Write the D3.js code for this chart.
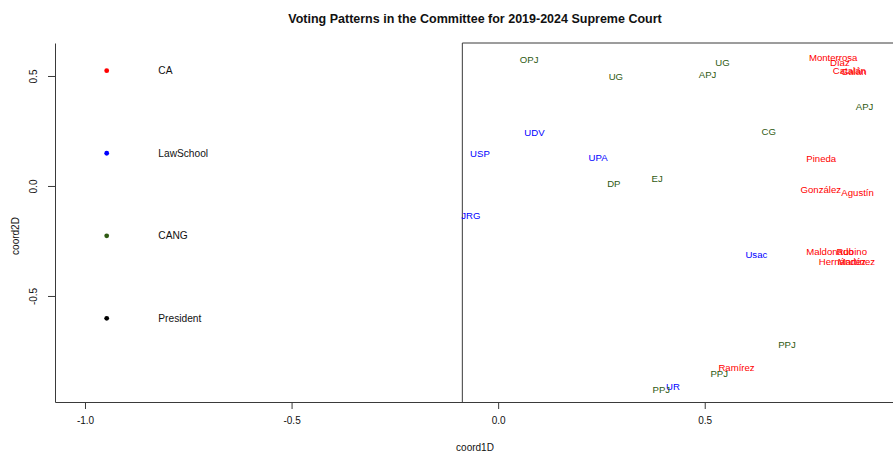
<!DOCTYPE html>
<html>
<head>
<meta charset="utf-8">
<script src="https://cdn.jsdelivr.net/npm/d3@7"></script>
<style>
  html, body { margin: 0; padding: 0; background: #fff; }
  svg { display: block; font-family: "Liberation Sans", Arial, sans-serif; }
</style>
</head>
<body>
<svg id="chart" width="893" height="452"></svg>
<script>
// ---- data ----
const labels = ["OPJ","UG","UG","APJ","Monterrosa","Díaz","Catalán","Galán","APJ","UDV","CG","USP","UPA","Pineda","EJ","DP","González","Agustín","JRG","Usac","Maldonado","Rubino","Hernández","Martínez","PPJ","Ramírez","PPJ","UR","PPJ"];
const groups = ["CANG","CANG","CANG","CANG","CA","CA","CA","CA","CANG","LawSchool","CANG","LawSchool","LawSchool","CA","CANG","CANG","CA","CA","LawSchool","LawSchool","CA","CA","CA","CA","CANG","CA","CANG","LawSchool","CANG"];
const coord1D = [0.075,0.543,0.285,0.507,0.811,0.827,0.850,0.861,0.887,0.088,0.655,-0.044,0.242,0.782,0.385,0.280,0.781,0.870,-0.066,0.625,0.803,0.856,0.833,0.867,0.699,0.577,0.535,0.423,0.395];
const coord2D = [0.573,0.560,0.497,0.505,0.585,0.560,0.523,0.520,0.360,0.242,0.245,0.147,0.130,0.126,0.033,0.012,-0.018,-0.030,-0.135,-0.314,-0.300,-0.300,-0.343,-0.343,-0.720,-0.824,-0.851,-0.912,-0.924];
const legendGroups = ["CA","LawSchool","CANG","President"];
const groupColors = ["#ff0000","#0000ff","#2f5a12","#000000"];
const xTicks = [-1.0,-0.5,0.0,0.5];
const yTicks = [-0.5,0.0,0.5];
const title = "Voting Patterns in the Committee for 2019-2024 Supreme Court";
const xLabel = "coord1D";
const yLabel = "coord2D";

// ---- layout ----
const svg = d3.select("#chart");
const L = 55, R = 893, T = 43, B = 402;
const x = d3.scaleLinear().domain([-1.0726, 0.9557]).range([L, R]);
const y = d3.scaleLinear().domain([-0.982, 0.65]).range([B, T]);
const color = d3.scaleOrdinal().domain(legendGroups).range(groupColors);
const axisColor = "#3a3a3a";

// title
svg.append("text").attr("x", 475).attr("y", 22.5)
  .attr("text-anchor", "middle").attr("font-weight", "bold")
  .attr("font-size", "12.5px").attr("fill", "#111").text(title);

// axes
const fmt = d => d.toFixed(1);
const gx = svg.append("g").attr("transform", `translate(0,${B})`)
  .call(d3.axisBottom(x).tickValues(xTicks).tickFormat(fmt).tickSize(7).tickSizeOuter(0).tickPadding(8));
const gy = svg.append("g").attr("transform", `translate(${L},0)`)
  .call(d3.axisLeft(y).tickValues(yTicks).tickFormat(fmt).tickSize(7).tickSizeOuter(0));
[gx, gy].forEach(g => {
  g.selectAll("path,line").attr("stroke", axisColor).attr("stroke-width", 1);
  g.selectAll("text").attr("font-size", "10px").attr("fill", "#111")
    .attr("font-family", "\"Liberation Sans\", Arial, sans-serif");
});
gy.selectAll(".tick text")
  .attr("transform", "rotate(-90)")
  .attr("text-anchor", "middle")
  .attr("x", 0).attr("y", -22).attr("dy", "0.35em");

// inner box (right panel)
const boxLeft = x(-0.0867);
svg.append("path")
  .attr("d", `M${R + 5},${T}H${boxLeft}V${B}`)
  .attr("fill", "none").attr("stroke", axisColor).attr("stroke-width", 1);

// axis labels
svg.append("text").attr("x", 475).attr("y", 450.5).attr("text-anchor", "middle")
  .attr("font-size", "10px").attr("fill", "#111").text(xLabel);
svg.append("text").attr("transform", "translate(15,236) rotate(-90)")
  .attr("text-anchor", "middle").attr("dy", "0.35em")
  .attr("font-size", "10px").attr("fill", "#111").text(yLabel);

// legend
const lg = svg.append("g");
legendGroups.forEach((g, i) => {
  const cy = 70.7 + i * 82.55;
  lg.append("circle").attr("cx", 106.7).attr("cy", cy).attr("r", 2.4).attr("fill", color(g));
  lg.append("text").attr("x", 158.3).attr("y", cy).attr("dy", "0.35em")
    .attr("font-size", "10.2px").attr("fill", "#111").text(g);
});

// points as text labels
svg.append("g").selectAll("text")
  .data(labels.map((l, i) => ({ l, g: groups[i], cx: coord1D[i], cy: coord2D[i] })))
  .join("text")
  .attr("x", d => x(d.cx)).attr("y", d => y(d.cy)).attr("dy", "0.35em")
  .attr("text-anchor", "middle").attr("font-size", "9.6px")
  .attr("fill", d => color(d.g)).text(d => d.l);
</script>
</body>
</html>
